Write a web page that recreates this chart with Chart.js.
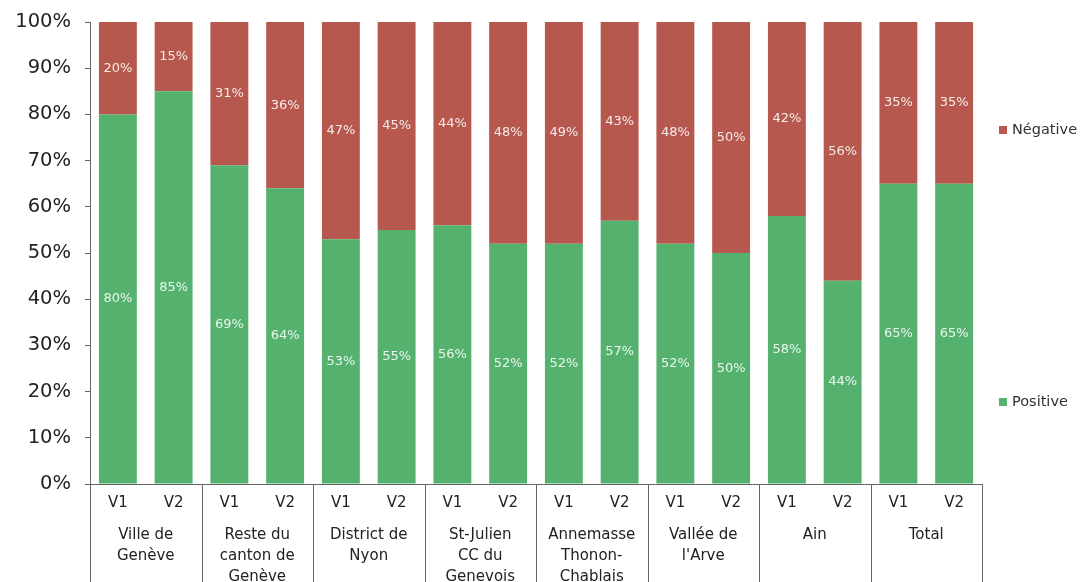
<!DOCTYPE html>
<html lang="fr">
<head>
  <meta charset="UTF-8" />
  <title>Positive / Négative</title>
  <script src="https://cdn.jsdelivr.net/npm/chart.js"></script>
  <style>
    html, body { margin: 0; padding: 0; background: #fff; }
    .wrap { width: 1084px; height: 582px; }
  </style>
</head>
<body>
  <div class="wrap"><canvas id="grafico"></canvas></div>
  <script>
    // données
    const vagues = ['V1', 'V2', 'V1', 'V2', 'V1', 'V2', 'V1', 'V2', 'V1', 'V2', 'V1', 'V2', 'V1', 'V2', 'V1', 'V2'];
    const regions = [
      ['Ville de', 'Genève'],
      ['Reste du', 'canton de', 'Genève'],
      ['District de', 'Nyon'],
      ['St-Julien', 'CC du', 'Genevois'],
      ['Annemasse', 'Thonon-', 'Chablais'],
      ['Vallée de', "l'Arve"],
      ['Ain'],
      ['Total']
    ];
    const positive = [80, 85, 69, 64, 53, 55, 56, 52, 52, 57, 52, 50, 58, 44, 65, 65];
    const negative = [20, 15, 31, 36, 47, 45, 44, 48, 49, 43, 48, 50, 42, 56, 35, 35];
    const yTicks = [0, 10, 20, 30, 40, 50, 60, 70, 80, 90, 100];

    const police = '"DejaVu Sans", "Liberation Sans", Arial, sans-serif';
    const vert = 'rgb(84, 178, 110)';
    const rouge = 'rgb(182, 88, 78)';

    // valeurs dans les barres
    const etiquettes = {
      id: 'etiquettes',
      afterDatasetsDraw(chart) {
        const ctx = chart.ctx;
        ctx.save();
        ctx.font = '13px ' + police;
        ctx.fillStyle = 'rgba(255,255,255,0.88)';
        ctx.textAlign = 'center';
        ctx.textBaseline = 'middle';
        chart.data.datasets.forEach((ds, i) => {
          const meta = chart.getDatasetMeta(i);
          meta.data.forEach((bar, j) => {
            const top = Math.max(bar.y, chart.chartArea.top);
            const y = (top + bar.base) / 2;
            ctx.fillText(ds.data[j] + '%', bar.x, y);
          });
        });
        ctx.restore();
      }
    };

    // axe des catégories à deux niveaux + légende
    const axeGroupes = {
      id: 'axeGroupes',
      afterDraw(chart) {
        const ctx = chart.ctx;
        const area = chart.chartArea;
        const x = chart.scales.x;
        const bas = chart.height;
        ctx.save();
        ctx.strokeStyle = '#666';
        ctx.lineWidth = 1;
        ctx.beginPath();
        ctx.moveTo(area.left - 5, area.bottom + 0.5);
        ctx.lineTo(area.right, area.bottom + 0.5);
        const pas = (area.right - area.left) / regions.length;
        for (let g = 0; g <= regions.length; g++) {
          const gx = Math.round(area.left + g * pas) + 0.5;
          ctx.moveTo(gx, area.bottom);
          ctx.lineTo(gx, bas);
        }
        ctx.stroke();

        ctx.fillStyle = '#222';
        ctx.textAlign = 'center';
        ctx.textBaseline = 'middle';
        ctx.font = '15px ' + police;
        vagues.forEach((v, i) => {
          ctx.fillText(v, x.getPixelForValue(i), area.bottom + 19);
        });
        regions.forEach((lignes, g) => {
          const cx = area.left + (g + 0.5) * pas;
          lignes.forEach((l, k) => {
            ctx.fillText(l, cx, area.bottom + 51 + k * 21);
          });
        });

        // légende
        const leg = [['Négative', rouge, 130], ['Positive', vert, 402]];
        ctx.textAlign = 'left';
        ctx.font = '14.5px ' + police;
        leg.forEach(([txt, c, y]) => {
          ctx.fillStyle = c;
          ctx.fillRect(999, y - 4, 8, 8);
          ctx.fillStyle = '#333';
          ctx.fillText(txt, 1012, y);
        });
        ctx.restore();
      }
    };

    new Chart(document.getElementById('grafico'), {
      type: 'bar',
      data: {
        labels: vagues,
        datasets: [
          { label: 'Positive', data: positive, backgroundColor: vert },
          { label: 'Négative', data: negative, backgroundColor: rouge }
        ]
      },
      options: {
        responsive: true,
        maintainAspectRatio: false,
        animation: false,
        layout: { padding: { top: 22, right: 102, bottom: 98, left: 0 } },
        plugins: {
          legend: { display: false },
          tooltip: { enabled: false }
        },
        datasets: {
          bar: { barPercentage: 0.68, categoryPercentage: 1 }
        },
        scales: {
          x: {
            stacked: true,
            grid: { display: false, drawTicks: false },
            border: { display: false },
            ticks: { display: false }
          },
          y: {
            stacked: true,
            min: 0,
            max: 100,
            afterFit(scale) {
              scale.width = 90;
              scale.paddingTop = 0;
              scale.paddingBottom = 0;
            },
            afterBuildTicks(scale) { scale.ticks = yTicks.map(v => ({ value: v })); },
            grid: { display: true, drawOnChartArea: false, tickLength: 5, color: '#666' },
            border: { display: true, color: '#666' },
            ticks: {
              padding: 14,
              color: '#222',
              font: { family: police, size: 19.5 },
              callback: v => v + '%'
            }
          }
        }
      },
      plugins: [etiquettes, axeGroupes]
    });
  </script>
</body>
</html>
